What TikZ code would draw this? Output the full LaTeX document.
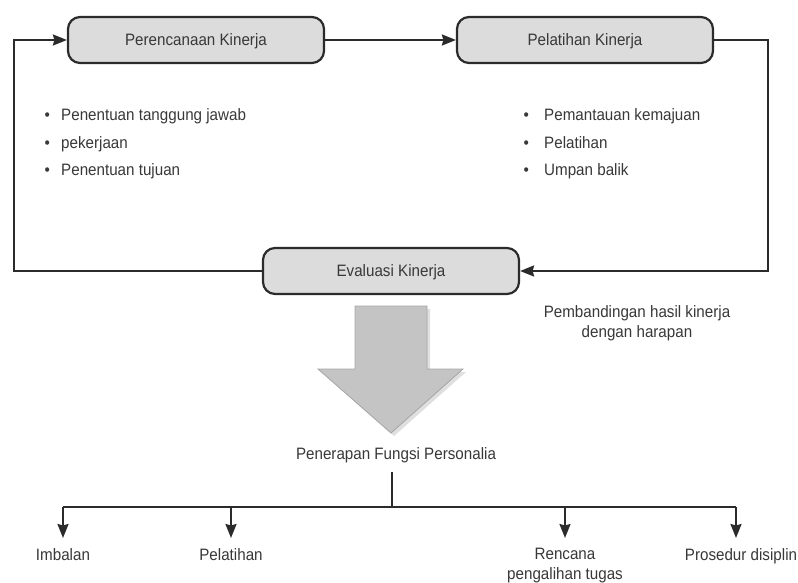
\documentclass[tikz,border=0pt]{standalone}
\usepackage{fontspec}
\setmainfont{Liberation Sans}[FakeStretch=0.92]
\usetikzlibrary{arrows.meta}

\definecolor{ink}{HTML}{2B2B2B}
\definecolor{txt}{HTML}{383838}
\definecolor{boxfill}{HTML}{DCDCDC}
\definecolor{bigfill}{HTML}{C4C4C4}
\definecolor{bigedge}{HTML}{A6A6A6}

\begin{document}
\begin{tikzpicture}[x=1pt,y=-1pt,
  font=\fontsize{16.5}{19.5}\selectfont, text=txt,
  stage/.style={draw=ink, line width=2.2pt, fill=boxfill, rounded corners=12pt,
    minimum width=256pt, minimum height=46pt, inner sep=0pt, outer sep=1.1pt,
    text height=11.8pt, text depth=0pt},
  link/.style={draw=ink, line width=2pt},
  tip/.style={-{Stealth[length=14pt,width=11pt,inset=1.5pt]}},
  item/.style={anchor=base west, inner sep=0pt},
  label/.style={anchor=base, inner sep=0pt, align=center}]

\useasboundingbox (0,0) rectangle (798,583);

% the three stages of the cycle
\node[stage] (plan) at (196,40) {Perencanaan Kinerja};
\node[stage] (train) at (585,40) {Pelatihan Kinerja};
\node[stage] (eval) at (391,271) {Evaluasi Kinerja};

% corners of the feedback loop
\coordinate (cl) at (14,0);
\coordinate (cr) at (768,0);

\draw[link,tip] (plan.east) -- (train.west);
\draw[link,tip] (train.east) -- (cr |- train.east) -- (cr |- eval.east) -- (eval.east);
\draw[link,tip] (eval.west) -- (cl |- eval.west) -- (cl |- plan.west) -- (plan.west);

% activities of each stage
\node[item] (p1) at (44.4,120.5) {\makebox[16.6pt][l]{\textbullet}Penentuan tanggung jawab};
\node[item] (p2) at (44.4,148.1) {\makebox[16.6pt][l]{\textbullet}pekerjaan};
\node[item] (p3) at (44.4,175.7) {\makebox[16.6pt][l]{\textbullet}Penentuan tujuan};

\node[item] (t1) at (523.4,120.5) {\makebox[20.6pt][l]{\textbullet}Pemantauan kemajuan};
\node[item] (t2) at (523.4,148.1) {\makebox[20.6pt][l]{\textbullet}Pelatihan};
\node[item] (t3) at (523.4,175.7) {\makebox[20.6pt][l]{\textbullet}Umpan balik};

% multi-line labels sit on the baseline of their last line
\node[label] (cmp) at (637,337) {Pembandingan hasil kinerja\\dengan harapan};

% broad arrow towards the personnel functions
\fill[gray!25] (358,309) -- (430,309) -- (430,372) -- (466,372) -- (394,436) -- (321,372) -- (358,372) -- cycle;
\draw[bigedge, fill=bigfill, line width=0.8pt, line join=miter]
  (355,306) -- (427,306) -- (427,369) -- (463,369) -- (391,433) -- (318,369) -- (355,369) -- cycle;

\node[label] (apply) at (396,459) {Penerapan Fungsi Personalia};

% distribution bar and its branches
\coordinate (stem) at (392,507);
\coordinate (b1) at (63,507);
\coordinate (b2) at (231,507);
\coordinate (b3) at (565,507);
\coordinate (b4) at (736,507);

\node[label] (f1) at (63,560) {Imbalan};
\node[label] (f2) at (231,560) {Pelatihan};
\node[label] (f3) at (565,579) {Rencana\\pengalihan tugas};
\node[label] (f4) at (741,560) {Prosedur disiplin};

\draw[link] (stem |- 0,472) -- (stem);
\draw[link] (b1) -- (b4);
\draw[link,tip] (b1) -- (b1 |- 0,538);
\draw[link,tip] (b2) -- (b2 |- 0,538);
\draw[link,tip] (b3) -- (b3 |- 0,538);
\draw[link,tip] (b4) -- (b4 |- 0,538);

\end{tikzpicture}
\end{document}
